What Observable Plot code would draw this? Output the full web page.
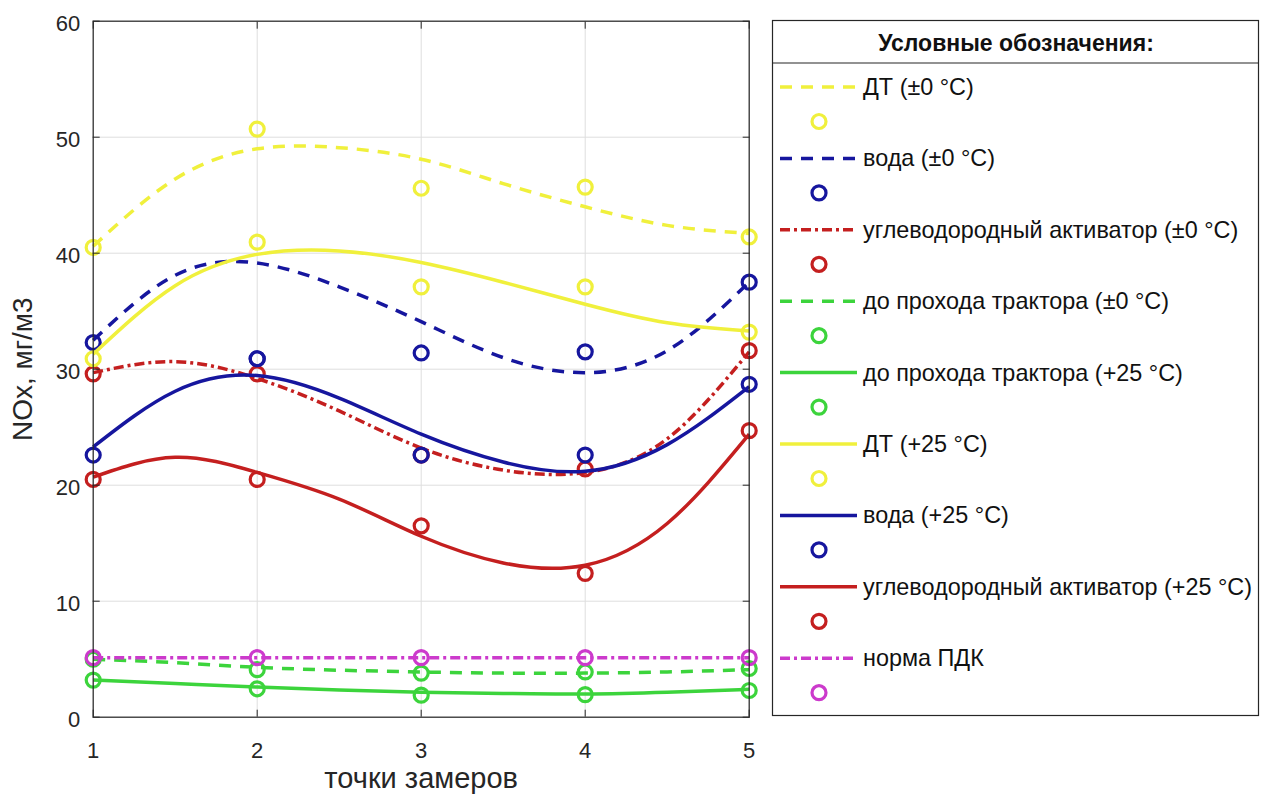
<!DOCTYPE html>
<html><head><meta charset="utf-8">
<script src="https://cdn.jsdelivr.net/npm/d3@7"></script>
<script src="https://cdn.jsdelivr.net/npm/@observablehq/plot@0.6"></script>
<style>
body{margin:0;background:#fff;}
#wrap{position:relative;width:1261px;height:796px;overflow:hidden;background:#fff;}
#wrap svg{position:absolute;left:0;top:0;}
</style></head><body><div id="wrap"></div>
<script>
// ---- data ----
const xTicks = [1, 2, 3, 4, 5];
const yTicks = [0, 10, 20, 30, 40, 50, 60];
const xPoints = [1, 2, 3, 4, 5];
const xCurve = [1, 1.5, 2, 2.5, 3, 3.5, 4, 4.5, 5];

const labels = [
  "ДТ (±0 °C)",
  "вода (±0 °C)",
  "углеводородный активатор (±0 °C)",
  "до прохода трактора (±0 °C)",
  "до прохода трактора (+25 °C)",
  "ДТ (+25 °C)",
  "вода (+25 °C)",
  "углеводородный активатор (+25 °C)",
  "норма ПДК"
];

const dt0Points    = [40.5, 50.7, 45.6, 45.7, 41.4];
const dt0Curve     = [40.6, 46.4, 49.0, 49.1, 48.1, 46.0, 44.0, 42.4, 41.7];
const voda0Points  = [32.3, 30.9, 31.4, 31.5, 37.5];
const voda0Curve   = [32.5, 38.1, 39.15, 37.1, 34.1, 31.0, 29.7, 31.6, 37.5];
const ugl0Points   = [29.6, 29.6, 22.6, 21.4, 31.6];
const ugl0Curve    = [29.7, 30.65, 29.2, 26.4, 23.2, 21.3, 21.1, 24.0, 31.5];
const trac0Points  = [5.0, 4.1, 3.8, 3.9, 4.2];
const trac0Curve   = [5.0, 4.7, 4.3, 4.05, 3.9, 3.8, 3.8, 3.9, 4.1];
const trac25Points = [3.2, 2.45, 1.9, 1.95, 2.3];
const trac25Curve  = [3.2, 2.9, 2.6, 2.35, 2.15, 2.05, 2.0, 2.15, 2.4];
const dt25Points   = [30.9, 40.95, 37.1, 37.1, 33.2];
const dt25Curve    = [31.3, 37.2, 39.9, 40.2, 39.2, 37.5, 35.6, 34.0, 33.3];
const voda25Points = [22.6, 30.9, 22.6, 22.6, 28.7];
const voda25Curve  = [23.3, 28.1, 29.45, 27.5, 24.4, 22.0, 21.2, 23.5, 28.5];
const ugl25Points  = [20.5, 20.5, 16.5, 12.4, 24.7];
const ugl25Curve   = [20.7, 22.4, 21.1, 18.8, 15.6, 13.3, 13.1, 16.7, 24.4];
const pdkPoints    = [5.13, 5.13, 5.13, 5.13, 5.13];
const pdkCurve     = [5.13, 5.13, 5.13, 5.13, 5.13];

const pointsList = [dt0Points, voda0Points, ugl0Points, trac0Points, trac25Points, dt25Points, voda25Points, ugl25Points, pdkPoints];
const curvesList = [dt0Curve, voda0Curve, ugl0Curve, trac0Curve, trac25Curve, dt25Curve, voda25Curve, ugl25Curve, pdkCurve];
const curveXList = [xCurve, xCurve, xCurve, xCurve, xCurve, xCurve, xCurve, xCurve, xPoints];

// ---- styles ----
const YEL = "#f0f03c", BLU = "#16169e", RED = "#c41f1f", GRN = "#3cd43c", MAG = "#cc3acc";
const DASH = "12,9", DASHDOT = "10,4,3,4";
const styles = [
  {color: YEL, dash: DASH},
  {color: BLU, dash: DASH},
  {color: RED, dash: DASHDOT},
  {color: GRN, dash: DASH},
  {color: GRN, dash: null},
  {color: YEL, dash: null},
  {color: BLU, dash: null},
  {color: RED, dash: null},
  {color: MAG, dash: DASHDOT}
];

const FONT = "'Liberation Sans', Arial, Helvetica, sans-serif";
const TXT = "#262626";

const marks = [
  Plot.gridX(xTicks, {stroke: "#dedede", strokeOpacity: 1}),
  Plot.gridY(yTicks, {stroke: "#dedede", strokeOpacity: 1})
];
labels.forEach((name, i) => {
  const cx = curveXList[i], cy = curvesList[i];
  const line = cx.map((x, j) => ({x, y: cy[j]}));
  const pts = xPoints.map((x, j) => ({x, y: pointsList[i][j]}));
  const st = styles[i];
  marks.push(Plot.line(line, {x: "x", y: "y", stroke: st.color, strokeWidth: 3.5,
    strokeDasharray: st.dash || undefined, curve: "natural", strokeLinecap: "butt"}));
  marks.push(Plot.dot(pts, {x: "x", y: "y", r: 7, stroke: st.color, strokeWidth: 3.2, fill: "none"}));
});
const noText = () => "";
marks.push(
  Plot.frame({stroke: TXT, strokeWidth: 1.2}),
  Plot.axisX(xTicks, {anchor: "bottom", label: null, tickSize: 0, tickPadding: 25, fontSize: 22, fill: TXT, tickFormat: d => String(d)}),
  Plot.axisY(yTicks, {anchor: "left", label: null, tickSize: 0, tickPadding: 13, fontSize: 22, fill: TXT, dy: 3, tickFormat: d => String(d)}),
  Plot.axisX(xTicks, {anchor: "bottom", label: null, tickSize: 7, dy: -7, tickFormat: noText, stroke: TXT}),
  Plot.axisX(xTicks, {anchor: "top", label: null, tickSize: 7, dy: 7, tickFormat: noText, stroke: TXT}),
  Plot.axisY(yTicks, {anchor: "left", label: null, tickSize: 7, dx: 7, tickFormat: noText, stroke: TXT}),
  Plot.axisY(yTicks, {anchor: "right", label: null, tickSize: 7, dx: -7, tickFormat: noText, stroke: TXT}),
  Plot.text(["точки замеров"], {frameAnchor: "bottom", textAnchor: "middle", dy: 62, fontSize: 29, fill: TXT, lineAnchor: "middle"}),
  Plot.text(["NOx, мг/м3"], {frameAnchor: "left", textAnchor: "middle", dx: -70, rotate: -90, fontSize: 28, fill: TXT, lineAnchor: "middle"})
);

const chart = Plot.plot({
  width: 1261, height: 796,
  marginLeft: 92.7, marginRight: 512.3, marginTop: 20.7, marginBottom: 79.3,
  x: {domain: [1, 5]},
  y: {domain: [0, 60]},
  style: {fontFamily: FONT, background: "white", overflow: "visible"},
  marks
});
const wrap = document.getElementById("wrap");
wrap.appendChild(chart);

// ---- legend ----
const lg = d3.select(wrap).append("svg")
  .attr("width", 1261).attr("height", 796)
  .style("font-family", FONT);
lg.append("rect").attr("x", 772.5).attr("y", 20.5).attr("width", 486).attr("height", 695)
  .attr("fill", "white").attr("stroke", TXT).attr("stroke-width", 1.2);
lg.append("line").attr("x1", 772.5).attr("x2", 1258.5).attr("y1", 63).attr("y2", 63)
  .attr("stroke", TXT).attr("stroke-width", 1.2);
lg.append("text").attr("x", 1016).attr("y", 51).attr("text-anchor", "middle")
  .attr("font-weight", "bold").attr("font-size", 23).attr("fill", "#111")
  .text("Условные обозначения:");
labels.forEach((name, i) => {
  const y = 87 + i * 71.4;
  const st = styles[i];
  lg.append("line").attr("x1", 780).attr("x2", 857).attr("y1", y).attr("y2", y)
    .attr("stroke", st.color).attr("stroke-width", 3.5)
    .attr("stroke-dasharray", st.dash || null);
  lg.append("text").attr("x", 863).attr("y", y + 8).attr("font-size", 23.4).attr("fill", "#111").text(name);
  lg.append("circle").attr("cx", 819).attr("cy", y + 34.5).attr("r", 7)
    .attr("fill", "none").attr("stroke", st.color).attr("stroke-width", 3.2);
});
</script></body></html>
